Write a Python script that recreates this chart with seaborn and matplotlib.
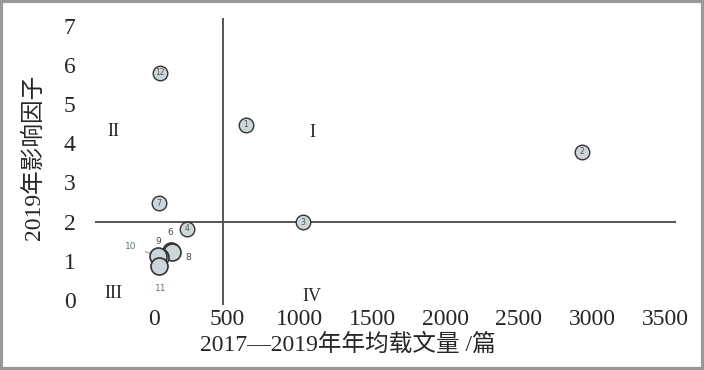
import numpy as np
import pandas as pd
import seaborn as sns
import matplotlib.pyplot as plt

# journal points: id, avg papers 2017-2019, 2019 impact factor
ids = ['1', '2', '3', '4', '6', '7', '8', '9', '10', '11', '12']
papers = [630, 2932, 1021, 226, 116, 34, 122, 41, 30, 34, 41]
impact = [4.48, 3.79, 1.98, 1.82, 1.25, 2.47, 1.22, 1.09, 1.12, 0.87, 5.80]
big = [False, False, False, False, True, False, True, True, True, True, False]

quad_names = ['I', 'II', 'III', 'IV']
quad_x = [1082, -281, -281, 1082]
quad_y = [4.27, 4.30, 0.15, 0.08]

# small labels outside the crowded cluster
call_ids = ['6', '9', '10', '8', '11']
call_x = [110, 27, -158, 233, 48]
call_y = [1.73, 1.50, 1.35, 1.07, 0.28]
call_col = ['#444444', '#444444', '#4f8070', '#444444', '#4f8070']

x_mean = 473
y_mean = 2

sns.set_style('white')
plt.rcParams['font.family'] = ['Liberation Serif', 'Noto Sans CJK SC']

df = pd.DataFrame({'id': ids, 'x': papers, 'y': impact, 'big': big})

fig = plt.figure(figsize=(7.04, 3.7), dpi=100)
ax = fig.add_axes([0.135, 0.176, 0.825, 0.775])

ax.axvline(x_mean, color='#555555', lw=1.4, zorder=1)
ax.axhline(y_mean, color='#555555', lw=1.4, zorder=1)

sns.scatterplot(data=df[~df['big']], x='x', y='y', s=110, color='#ccd5d8',
                edgecolor='#333333', linewidth=1.0, ax=ax, zorder=3)
sns.scatterplot(data=df[df['big']], x='x', y='y', s=150, color='#ccd5d8',
                edgecolor='#333333', linewidth=1.2, ax=ax, zorder=3)

for i, r in df.iterrows():
    if not r['big']:
        ax.text(r['x'], r['y'], r['id'], fontsize=5.5, ha='center', va='center',
                color='#555555', zorder=4, family='DejaVu Sans')

for k, lab in enumerate(call_ids):
    px = df.loc[df['id'] == lab, 'x'].values[0]
    py = df.loc[df['id'] == lab, 'y'].values[0]
    ax.annotate(lab, xy=(px, py), xytext=(call_x[k], call_y[k]), fontsize=6.5,
                color=call_col[k], ha='center', va='center', family='DejaVu Sans',
                arrowprops=dict(arrowstyle='-', color='#999999', lw=0.8,
                                shrinkA=4, shrinkB=2), zorder=2)

for k, q in enumerate(quad_names):
    ax.text(quad_x[k], quad_y[k], q, fontsize=13, ha='center', va='center')

ax.set_xlim(-404, 3575)
ax.set_ylim(-0.13, 7.2)
ax.set_xticks(range(0, 4000, 500))
ax.set_yticks(range(0, 8))
ax.tick_params(labelsize=17, length=0, pad=3)
ax.tick_params(axis='y', pad=14)
ax.set_xlabel('2017—2019年年均载文量 /篇', fontsize=17, va='center')
ax.set_ylabel('2019年影响因子', fontsize=17, va='center')
ax.xaxis.set_label_coords(0.435, -0.14)
ax.yaxis.set_label_coords(-0.105, 0.516)
sns.despine(ax=ax, left=True, bottom=True)

fig.patches.append(plt.Rectangle((0.002, 0.003), 0.996, 0.994, transform=fig.transFigure,
                                 fill=False, edgecolor='#999999', lw=3))

plt.savefig('out.png', dpi=100)
